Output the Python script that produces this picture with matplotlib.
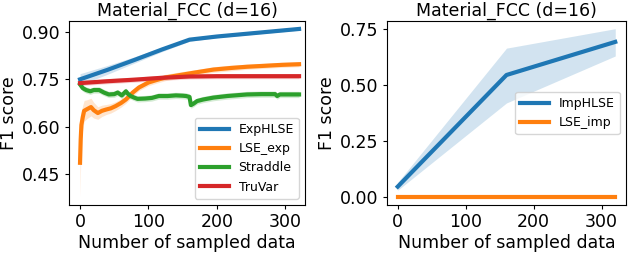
import numpy as np
import matplotlib
matplotlib.use("Agg")
import matplotlib.pyplot as plt

# ---------------- data (left panel) ----------------
exp_x = [0, 40, 80, 120, 160, 200, 240, 280, 320]
exp_y = [0.750, 0.780, 0.812, 0.845, 0.876, 0.886, 0.894, 0.902, 0.910]
exp_err = [0.018, 0.014, 0.010, 0.007, 0.005, 0.004, 0.004, 0.004, 0.004]

lse_x = [0, 1, 2, 4, 6, 10, 16, 20, 26, 32, 38, 45, 52, 60, 67, 72, 77, 86, 100,
         112, 125, 147, 169, 195, 220, 244, 270, 295, 320]
lse_y = [0.485, 0.560, 0.605, 0.630, 0.650, 0.655, 0.662, 0.652, 0.643, 0.650,
         0.654, 0.658, 0.665, 0.675, 0.686, 0.697, 0.708, 0.724, 0.740,
         0.748, 0.756, 0.764, 0.772, 0.781, 0.786, 0.790, 0.793, 0.796, 0.798]
lse_err = [0.11, 0.07, 0.045, 0.038, 0.033, 0.03, 0.028, 0.025, 0.02, 0.018,
           0.016, 0.015, 0.014, 0.013, 0.012, 0.012, 0.011, 0.010, 0.010,
           0.010, 0.010, 0.010, 0.009, 0.009, 0.009, 0.008, 0.008, 0.008, 0.008]

str_x = [0, 4, 9, 15, 20, 28, 35, 42, 50, 55, 61, 67, 70, 74, 79, 84, 95, 105,
         115, 128, 140, 150, 155, 160, 162, 166, 171, 180, 195, 215, 244,
         265, 285, 288, 292, 305, 320]
str_y = [0.734, 0.722, 0.716, 0.712, 0.716, 0.716, 0.708, 0.702, 0.703, 0.708,
         0.699, 0.712, 0.704, 0.697, 0.692, 0.688, 0.689, 0.691, 0.697, 0.697,
         0.699, 0.698, 0.697, 0.694, 0.668, 0.673, 0.681, 0.686, 0.692, 0.697,
         0.702, 0.703, 0.703, 0.697, 0.702, 0.702, 0.702]
str_err = 0.010

tru_x = [0, 40, 80, 120, 160, 200, 240, 280, 320]
tru_y = [0.738, 0.744, 0.749, 0.755, 0.759, 0.760, 0.760, 0.760, 0.760]
tru_err = 0.008

# ---------------- data (right panel) ----------------
imp_x = [0, 160, 320]
imp_y = [0.046, 0.545, 0.693]
imp_lo = [0.030, 0.420, 0.630]
imp_hi = [0.065, 0.665, 0.752]
lsei_x = [0, 160, 320]
lsei_y = [0.0, 0.0, 0.0]

C_BLUE, C_ORANGE, C_GREEN, C_RED = "#1f77b4", "#ff7f0e", "#2ca02c", "#d62728"
LW = 3.0
FS_TICK = 12.5
FS_LAB = 12.5
FS_TITLE = 12.5
FS_LEG = 9

fig = plt.figure(figsize=(6.28, 2.54), dpi=100)
ax1 = fig.add_axes([0.110, 0.193, 0.376, 0.724])
ax2 = fig.add_axes([0.616, 0.193, 0.381, 0.724])

def band(ax, x, y, e, c):
    x = np.asarray(x, float); y = np.asarray(y, float); e = np.broadcast_to(np.asarray(e, float), y.shape)
    ax.fill_between(x, y - e, y + e, color=c, alpha=0.2, linewidth=0)

band(ax1, exp_x, exp_y, exp_err, C_BLUE)
band(ax1, lse_x, lse_y, lse_err, C_ORANGE)
band(ax1, str_x, str_y, str_err, C_GREEN)
band(ax1, tru_x, tru_y, tru_err, C_RED)
ax1.plot(exp_x, exp_y, color=C_BLUE, lw=LW, label="ExpHLSE")
ax1.plot(lse_x, lse_y, color=C_ORANGE, lw=LW, label="LSE_exp")
ax1.plot(str_x, str_y, color=C_GREEN, lw=LW, label="Straddle")
ax1.plot(tru_x, tru_y, color=C_RED, lw=LW, label="TruVar")
ax1.set_xlim(-16, 329)
ax1.set_ylim(0.351, 0.935)
ax1.set_yticks([0.45, 0.60, 0.75, 0.90])
ax1.set_yticklabels(["0.45", "0.60", "0.75", "0.90"])
ax1.set_xticks([0, 100, 200, 300])
ax1.legend(loc="lower right", fontsize=FS_LEG, handlelength=2.3)

ax2.fill_between(imp_x, imp_lo, imp_hi, color=C_BLUE, alpha=0.2, linewidth=0)
ax2.plot(imp_x, imp_y, color=C_BLUE, lw=LW, label="ImpHLSE")
ax2.plot(lsei_x, lsei_y, color=C_ORANGE, lw=LW, label="LSE_imp")
ax2.set_xlim(-16, 336)
ax2.set_ylim(-0.036, 0.786)
ax2.set_yticks([0.0, 0.25, 0.5, 0.75])
ax2.set_yticklabels(["0.00", "0.25", "0.50", "0.75"])
ax2.set_xticks([0, 100, 200, 300])
ax2.legend(loc="center right", fontsize=FS_LEG, handlelength=2.3)

for ax in (ax1, ax2):
    ax.set_title("Material_FCC (d=16)", fontsize=FS_TITLE, pad=4)
    ax.set_xlabel("Number of sampled data", fontsize=FS_LAB, labelpad=2)
    ax.set_ylabel("F1 score", fontsize=FS_LAB, labelpad=3)
    ax.tick_params(labelsize=FS_TICK, length=3, pad=3)

fig.savefig("out.png", dpi=100)
